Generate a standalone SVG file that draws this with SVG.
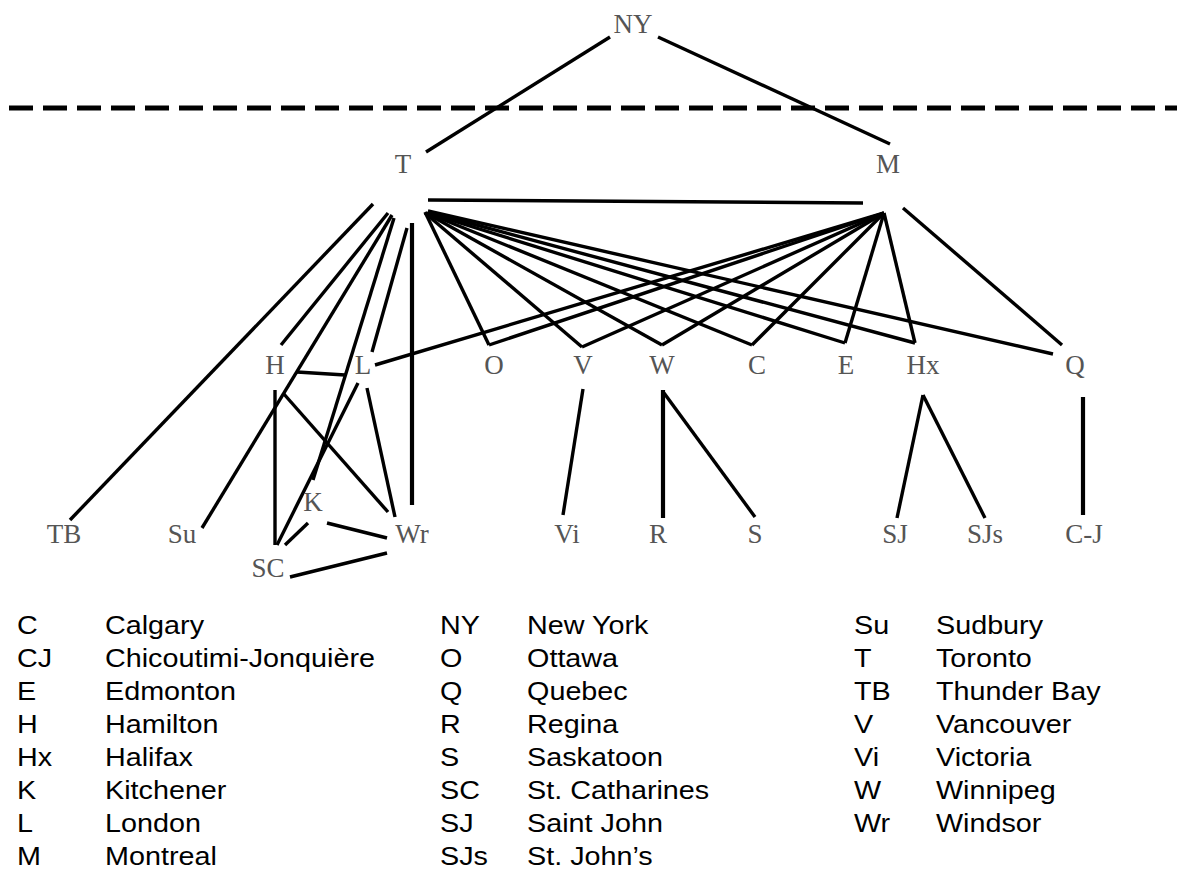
<svg xmlns="http://www.w3.org/2000/svg" width="1177" height="873" viewBox="0 0 1177 873">
<style>
.n{font-family:"Liberation Serif","Times New Roman",serif;font-size:27px;fill:#555;text-anchor:middle}
.e{stroke:#000;stroke-width:3.4;fill:none}
.t{stroke-width:4.2}
.lg{font-family:"Liberation Sans",Arial,sans-serif;font-size:25px;fill:#000}
</style>
<rect width="1177" height="873" fill="#fff"/>
<line x1="9" y1="108" x2="1177" y2="108" stroke="#000" stroke-width="5" stroke-dasharray="24 10"/>
<g id="connectors">
<line class="e" x1="610" y1="37" x2="426" y2="152"/>
<line class="e" x1="658" y1="37" x2="890" y2="144"/>
<line class="e" x1="428" y1="200" x2="863" y2="203"/>
<line class="e" x1="373" y1="204" x2="70" y2="520"/>
<line class="e" x1="388" y1="213" x2="281" y2="345"/>
<line class="e" x1="392" y1="215" x2="202" y2="528"/>
<line class="e" x1="394" y1="218" x2="313" y2="480"/>
<line class="e" x1="407" y1="228" x2="372" y2="352"/>
<line class="e t" x1="412" y1="223" x2="412" y2="505"/>
<line class="e" x1="425" y1="212" x2="489" y2="345"/>
<line class="e" x1="425" y1="213" x2="582" y2="347"/>
<line class="e" x1="426" y1="213" x2="662" y2="345"/>
<line class="e" x1="427" y1="213" x2="752" y2="345"/>
<line class="e" x1="428" y1="213" x2="845" y2="343"/>
<line class="e" x1="428" y1="212" x2="915" y2="343"/>
<line class="e" x1="428" y1="211" x2="1053" y2="354"/>
<line class="e" x1="884" y1="213" x2="375" y2="365"/>
<line class="e" x1="884" y1="213" x2="489" y2="345"/>
<line class="e" x1="884" y1="213" x2="582" y2="347"/>
<line class="e" x1="884" y1="213" x2="662" y2="345"/>
<line class="e" x1="884" y1="213" x2="752" y2="345"/>
<line class="e" x1="884" y1="213" x2="845" y2="343"/>
<line class="e" x1="884" y1="213" x2="915" y2="343"/>
<line class="e" x1="903" y1="208" x2="1062" y2="345"/>
<line class="e" x1="297" y1="372" x2="345" y2="375"/>
<line class="e" x1="275" y1="390" x2="275" y2="545"/>
<line class="e" x1="283" y1="393" x2="388" y2="512"/>
<line class="e" x1="358" y1="383" x2="277" y2="545"/>
<line class="e" x1="367" y1="388" x2="395" y2="517"/>
<line class="e" x1="327" y1="523" x2="387" y2="538"/>
<line class="e" x1="308" y1="523" x2="285" y2="545"/>
<line class="e" x1="290" y1="577" x2="387" y2="553"/>
<line class="e" x1="583" y1="389" x2="563" y2="515"/>
<line class="e t" x1="663" y1="390" x2="663" y2="518"/>
<line class="e" x1="664" y1="393" x2="755" y2="517"/>
<line class="e" x1="923" y1="395" x2="897" y2="518"/>
<line class="e" x1="923" y1="395" x2="985" y2="518"/>
<line class="e t" x1="1083" y1="397" x2="1083" y2="515"/>
</g>
<g id="NY"><text class="n" x="633" y="33">NY</text></g>
<g id="T"><text class="n" x="403" y="173">T</text></g>
<g id="M"><text class="n" x="888" y="173">M</text></g>
<g id="H"><text class="n" x="275" y="374">H</text></g>
<g id="L"><text class="n" x="363" y="374">L</text></g>
<g id="O"><text class="n" x="494" y="374">O</text></g>
<g id="V"><text class="n" x="583" y="374">V</text></g>
<g id="W"><text class="n" x="662" y="374">W</text></g>
<g id="C"><text class="n" x="757" y="374">C</text></g>
<g id="E"><text class="n" x="846" y="374">E</text></g>
<g id="Hx"><text class="n" x="923" y="374">Hx</text></g>
<g id="Q"><text class="n" x="1075" y="374">Q</text></g>
<g id="TB"><text class="n" x="64" y="543">TB</text></g>
<g id="Su"><text class="n" x="182" y="543">Su</text></g>
<g id="K"><text class="n" x="313" y="511">K</text></g>
<g id="Wr"><text class="n" x="412" y="543">Wr</text></g>
<g id="SC"><text class="n" x="268" y="577">SC</text></g>
<g id="Vi"><text class="n" x="567" y="543">Vi</text></g>
<g id="R"><text class="n" x="658" y="543">R</text></g>
<g id="S"><text class="n" x="755" y="543">S</text></g>
<g id="SJ"><text class="n" x="895" y="543">SJ</text></g>
<g id="SJs"><text class="n" x="985" y="543">SJs</text></g>
<g id="C-J"><text class="n" x="1084" y="543">C-J</text></g>
<g id="legend" class="lg" transform="scale(1.15 1)">
<text x="14.8" y="634">C</text><text x="91.3" y="634">Calgary</text>
<text x="14.8" y="667">CJ</text><text x="91.3" y="667">Chicoutimi-Jonquière</text>
<text x="14.8" y="700">E</text><text x="91.3" y="700">Edmonton</text>
<text x="14.8" y="733">H</text><text x="91.3" y="733">Hamilton</text>
<text x="14.8" y="766">Hx</text><text x="91.3" y="766">Halifax</text>
<text x="14.8" y="799">K</text><text x="91.3" y="799">Kitchener</text>
<text x="14.8" y="832">L</text><text x="91.3" y="832">London</text>
<text x="14.8" y="865">M</text><text x="91.3" y="865">Montreal</text>
<text x="382.6" y="634">NY</text><text x="458.3" y="634">New York</text>
<text x="382.6" y="667">O</text><text x="458.3" y="667">Ottawa</text>
<text x="382.6" y="700">Q</text><text x="458.3" y="700">Quebec</text>
<text x="382.6" y="733">R</text><text x="458.3" y="733">Regina</text>
<text x="382.6" y="766">S</text><text x="458.3" y="766">Saskatoon</text>
<text x="382.6" y="799">SC</text><text x="458.3" y="799">St. Catharines</text>
<text x="382.6" y="832">SJ</text><text x="458.3" y="832">Saint John</text>
<text x="382.6" y="865">SJs</text><text x="458.3" y="865">St. John’s</text>
<text x="742.6" y="634">Su</text><text x="813.9" y="634">Sudbury</text>
<text x="742.6" y="667">T</text><text x="813.9" y="667">Toronto</text>
<text x="742.6" y="700">TB</text><text x="813.9" y="700">Thunder Bay</text>
<text x="742.6" y="733">V</text><text x="813.9" y="733">Vancouver</text>
<text x="742.6" y="766">Vi</text><text x="813.9" y="766">Victoria</text>
<text x="742.6" y="799">W</text><text x="813.9" y="799">Winnipeg</text>
<text x="742.6" y="832">Wr</text><text x="813.9" y="832">Windsor</text>
</g>
</svg>
